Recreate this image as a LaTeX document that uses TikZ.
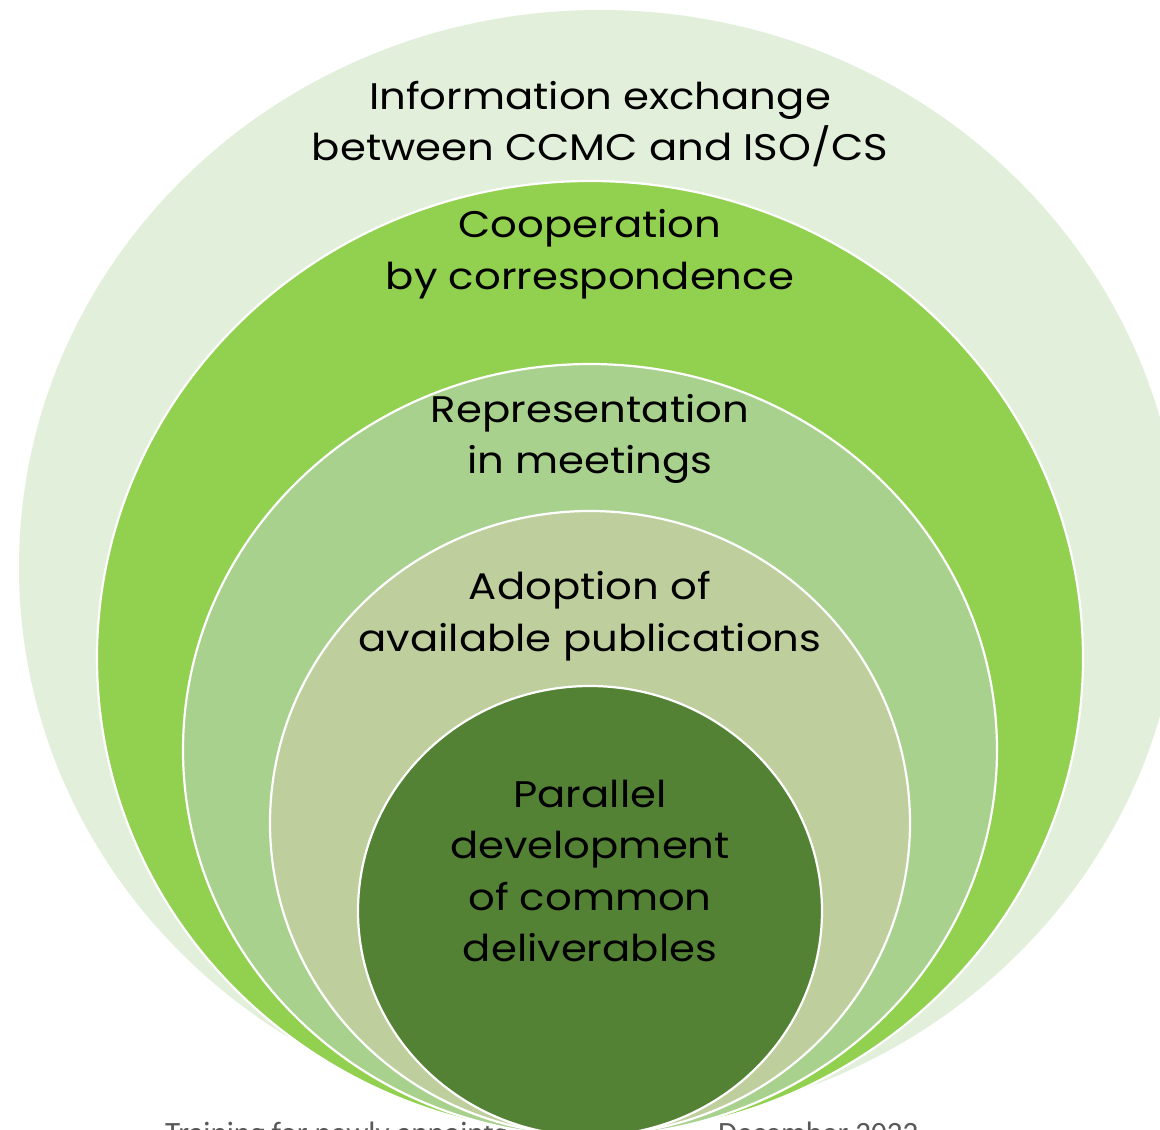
\documentclass[tikz,border=0pt]{standalone}
\usepackage{fontspec}
\setmainfont{Poppins}[FakeStretch=1.13]
\newfontfamily\footfont{Carlito}
\definecolor{ringA}{HTML}{E2EFDA}
\definecolor{ringB}{HTML}{92D050}
\definecolor{ringC}{HTML}{A9D18E}
\definecolor{ringD}{HTML}{BFCE9D}
\definecolor{ringE}{HTML}{548235}
\definecolor{footgray}{HTML}{595959}
\tikzset{
  ringedge/.style={draw=white, line width=2.2pt},
  ringlabel/.style={align=center, text=black, inner sep=0pt,
    font=\fontsize{37}{51.5}\selectfont},
}
\begin{document}
\begin{tikzpicture}[x=1pt,y=-1pt]
  \fill[white] (0,0) rectangle (1160,1130);
  \clip (0,0) rectangle (1160,1130);
  \useasboundingbox (0,0) rectangle (1160,1130);
  % footer (mostly hidden, cut at page bottom)
  \node[anchor=base west, inner sep=0pt, text=footgray,
        font=\footfont\fontsize{31}{33}\selectfont] (footer) at (165,1143.5)
        {Training for newly appointed liaisons\hspace{1.25em}–\hspace{1.25em}December 2022};
  % nested ellipses
  \fill[ringA] (600,567) ellipse [x radius=581pt, y radius=557pt];
  \fill[ringB, ringedge] (590,658) ellipse [x radius=493pt, y radius=477pt];
  \fill[ringC, ringedge] (590,750) ellipse [x radius=407pt, y radius=386pt];
  \fill[ringD, ringedge] (590,823) ellipse [x radius=320pt, y radius=312pt];
  \fill[ringE, ringedge] (590,911) ellipse [x radius=232pt, y radius=225pt];
  % labels
  \node[ringlabel] (info) at (600,124) {Information exchange\\between CCMC and ISO/CS};
  \node[ringlabel] (coop) at (590,254) {Cooperation\\by correspondence};
  \node[ringlabel] (repr) at (590,439) {Representation\\in meetings};
  \node[ringlabel] (adop) at (590,616) {Adoption of\\available publications};
  \node[ringlabel] (para) at (590,871) {Parallel\\development\\of common\\deliverables};
\end{tikzpicture}
\end{document}
